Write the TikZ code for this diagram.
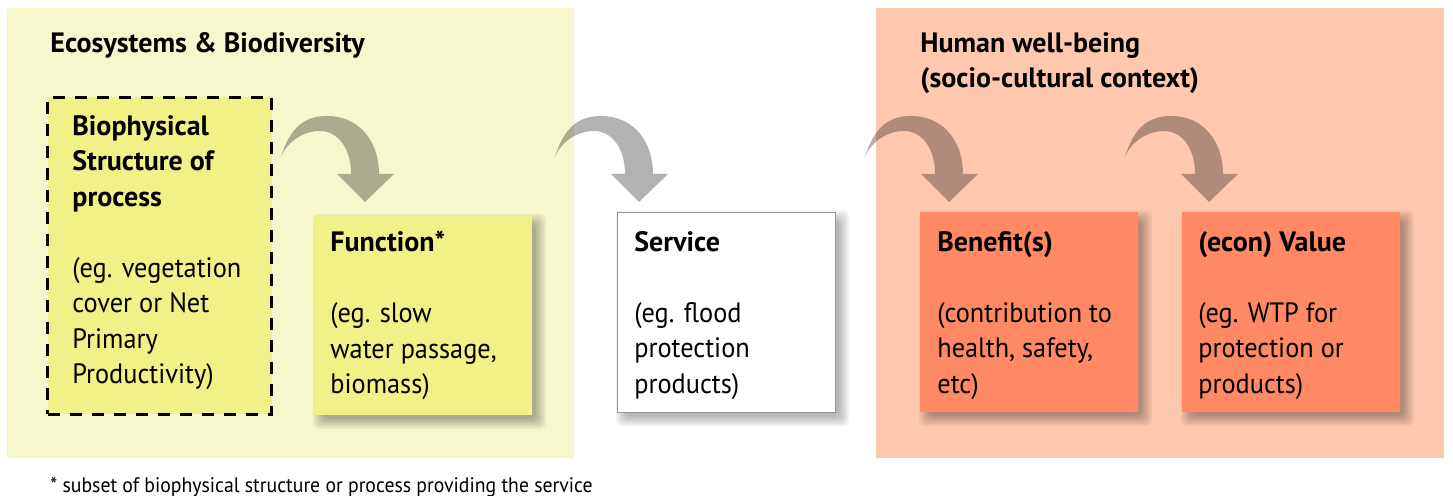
\documentclass[tikz,border=0pt]{standalone}
\usepackage{fontspec}
\setmainfont{PT Sans}[UprightFeatures={FakeStretch=0.94}]

\definecolor{ecopanel}{RGB}{246,247,204}
\definecolor{ecobox}{RGB}{240,242,136}
\definecolor{humanpanel}{RGB}{254,200,175}
\definecolor{humanbox}{RGB}{255,137,100}
\definecolor{servline}{RGB}{150,150,150}

\pgfdeclarelayer{back}
\pgfdeclarelayer{shade}
\pgfsetlayers{back,shade,main}

\tikzset{
  panel/.style={anchor=north west,inner sep=0pt,minimum width=283.5pt,minimum height=225pt},
  stagebox/.style={anchor=north west,inner sep=0pt,minimum width=109pt,minimum height=100pt},
  boxtext/.style={anchor=north west,inner sep=0pt,align=left,font=\fontsize{14}{17.75}\selectfont},
  heading/.style={boxtext,font=\fontsize{14}{17.75}\selectfont\bfseries},
  bendarrow/.pic={
    \fill[black,opacity=0.3] (-84,-45) .. controls (-75,-75) and (-60,-86) .. (-38,-86)
      .. controls (-5,-86) and (14,-60) .. (14,-28)
      -- (29,-28) -- (0,0) -- (-28,-28) -- (-14,-28)
      .. controls (-14,-55) and (-28,-71) .. (-45,-71)
      .. controls (-62,-71) and (-78,-60) .. (-84,-45) -- cycle;
  }
}

\begin{document}
\begin{tikzpicture}[x=0.5pt,y=-0.5pt]
  \useasboundingbox (0,0) rectangle (1453,496);

  % the two context panels
  \begin{pgfonlayer}{back}
  \node[panel,fill=ecopanel] (eco) at (7,8) {};
  \node[panel,fill=humanpanel,minimum width=284pt] (human) at (876,8) {};
  \end{pgfonlayer}
  \node[heading] (ecotitle) at (50,32) {Ecosystems \& Biodiversity};
  \node[heading] (humantitle) at (920,32) {Human well-being\\(socio-cultural context)};

  % the chain of boxes
  \node[anchor=north west,inner sep=0pt,minimum width=112pt,minimum height=158.5pt,
    fill=ecobox,draw=black,line width=1.5pt,dash pattern=on 6pt off 5pt] (bio) at (46,96) {};
  \node[stagebox,fill=ecobox] (func) at (314,215) {};
  \node[stagebox,fill=white,draw=servline,line width=0.6pt] (serv) at (617,212) {};
  \node[stagebox,fill=humanbox] (benef) at (920,212) {};
  \node[stagebox,fill=humanbox] (value) at (1182,212) {};

  % soft shadows behind the four stage boxes
  \begin{pgfonlayer}{shade}
  \foreach \b in {func,serv,benef,value}
    \foreach \e in {7,5,3,1,-1,-3}
      \fill[black,opacity=0.055,rounded corners=3pt]
        ([shift={(6-\e,6-\e)}]\b.north west) rectangle ([shift={(6+\e,6+\e)}]\b.south east);
  \end{pgfonlayer}

  \node[boxtext] (biotext) at ([shift={(26,19)}]bio.north west)
    {\textbf{Biophysical}\\\textbf{Structure of}\\\textbf{process}\\[17.75pt](eg. vegetation\\cover or Net\\Primary\\Productivity)};
  \node[boxtext] (functext) at ([shift={(16,16)}]func.north west)
    {\textbf{Function*}\\[17.75pt](eg. slow\\water passage,\\biomass)};
  \node[boxtext] (servtext) at ([shift={(17,19)}]serv.north west)
    {\textbf{Service}\\[17.75pt](eg. flood\\protection\\products)};
  \node[boxtext] (beneftext) at ([shift={(17,19)}]benef.north west)
    {\textbf{Benefit(s)}\\[17.75pt](contribution to\\health, safety,\\etc)};
  \node[boxtext] (valuetext) at ([shift={(16,19)}]value.north west)
    {\textbf{(econ) Value}\\[17.75pt](eg. WTP for\\protection or\\products)};

  % curved arrows into each box
  \pic at ([shift={(51,-13)}]func.north west) {bendarrow};
  \pic at ([shift={(22,-10)}]serv.north west) {bendarrow};
  \pic at ([shift={(29,-10)}]benef.north west) {bendarrow};
  \pic at ([shift={(27,-10)}]value.north west) {bendarrow};

  \node[anchor=north west,inner sep=0pt,font=\fontsize{10.5}{12}\selectfont] (note) at (50,477)
    {* subset of biophysical structure or process providing the service};
\end{tikzpicture}
\end{document}
